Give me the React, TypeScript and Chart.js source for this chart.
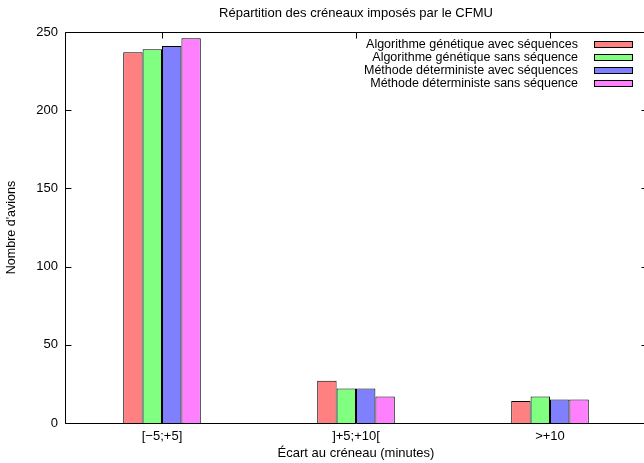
import React, { useEffect, useRef } from 'react';
import { Chart, registerables } from 'chart.js';

Chart.register(...registerables);

const FONT = '"Liberation Sans", Arial, Helvetica, sans-serif';

// Écart au créneau (categories on the x axis)
const categories = ['[−5;+5]', ']+5;+10[', '>+10'];

// Nombre d'avions per method
const genetiqueAvecSequences = [237, 27, 14];
const genetiqueSansSequence = [239, 22, 17];
const deterministeAvecSequences = [241, 22, 15];
const deterministeSansSequence = [246, 17, 15];

const seriesLabels = [
  'Algorithme génétique avec séquences',
  'Algorithme génétique sans séquence',
  'Méthode déterministe avec séquences',
  'Méthode déterministe sans séquence',
];
const seriesColors = ['#ff8080', '#80ff80', '#8080ff', '#ff80ff'];

const yMin = 0;
const yMax = 250;
const yStep = 50;

const chartTitle = 'Répartition des créneaux imposés par le CFMU';
const xTitle = 'Écart au créneau (minutes)';
const yTitle = "Nombre d'avions";

// gnuplot-like frame: border, inward tics on all sides, title and legend in the top right
const framePlugin = {
  id: 'gnuplotFrame',
  beforeDatasetsDraw(chart: any) {
    const { ctx, chartArea } = chart;
    const xs = chart.scales.x;
    ctx.save();
    ctx.strokeStyle = '#000';
    ctx.lineWidth = 1;
    ctx.beginPath();
    categories.forEach((_, i) => {
      const x = Math.round(xs.getPixelForValue(i)) + 0.5;
      ctx.moveTo(x, chartArea.bottom);
      ctx.lineTo(x, chartArea.bottom - 6);
    });
    ctx.stroke();
    ctx.restore();
  },
  afterDatasetsDraw(chart: any) {
    const { ctx, chartArea } = chart;
    const xs = chart.scales.x;
    const ys = chart.scales.y;
    const l = Math.round(chartArea.left) + 0.5;
    const r = Math.round(chartArea.right) + 0.5;
    const t = Math.round(chartArea.top) + 0.5;
    const b = Math.round(chartArea.bottom) + 0.5;
    ctx.save();
    ctx.strokeStyle = '#000';
    ctx.lineWidth = 1;
    ctx.beginPath();
    ctx.rect(l, t, r - l, b - t);
    ys.ticks.forEach((tk: any) => {
      const y = Math.round(ys.getPixelForValue(tk.value)) + 0.5;
      ctx.moveTo(l, y);
      ctx.lineTo(l + 6, y);
      ctx.moveTo(r, y);
      ctx.lineTo(r - 6, y);
    });
    categories.forEach((_, i) => {
      const x = Math.round(xs.getPixelForValue(i)) + 0.5;
      ctx.moveTo(x, t);
      ctx.lineTo(x, t + 6);
    });
    ctx.stroke();
    ctx.restore();
  },
  afterDraw(chart: any) {
    const { ctx, chartArea } = chart;
    ctx.save();
    ctx.fillStyle = '#000';
    // title
    ctx.font = `13px ${FONT}`;
    ctx.textAlign = 'center';
    ctx.textBaseline = 'alphabetic';
    ctx.fillText(chartTitle, (chartArea.left + chartArea.right) / 2, 17);
    // legend
    ctx.font = `12.5px ${FONT}`;
    ctx.textAlign = 'right';
    ctx.textBaseline = 'middle';
    const textRight = chartArea.right - 69;
    const boxLeft = chartArea.right - 53;
    const boxW = 38;
    const boxH = 6;
    chart.data.datasets.forEach((ds: any, i: number) => {
      const cy = chartArea.top + 12 + i * 13;
      ctx.fillStyle = '#000';
      ctx.fillText(ds.label, textRight, cy + 1);
      ctx.fillStyle = ds.backgroundColor;
      ctx.fillRect(Math.round(boxLeft) + 0.5, Math.round(cy - boxH / 2) + 0.5, boxW, boxH);
      ctx.strokeStyle = '#000';
      ctx.lineWidth = 1;
      ctx.strokeRect(Math.round(boxLeft) + 0.5, Math.round(cy - boxH / 2) + 0.5, boxW, boxH);
    });
    ctx.restore();
  },
};

export default function App() {
  const canvasRef = useRef<HTMLCanvasElement>(null);

  useEffect(() => {
    if (!canvasRef.current) return;
    const values = [
      genetiqueAvecSequences,
      genetiqueSansSequence,
      deterministeAvecSequences,
      deterministeSansSequence,
    ];
    const chart = new Chart(canvasRef.current, {
      type: 'bar',
      data: {
        labels: categories,
        datasets: values.map((data, i) => ({
          label: seriesLabels[i],
          data,
          backgroundColor: seriesColors[i],
          borderColor: '#000',
          borderWidth: 1,
          categoryPercentage: 0.4,
          barPercentage: 1,
        })),
      },
      options: {
        animation: false,
        responsive: false,
        events: [],
        layout: { padding: { top: 32, right: 13, left: 0, bottom: 0 } },
        plugins: {
          legend: { display: false },
          title: { display: false },
          tooltip: { enabled: false },
        },
        scales: {
          x: {
            type: 'category',
            offset: true,
            grid: { display: false, drawTicks: false },
            border: { display: false },
            ticks: {
              color: '#000',
              font: { family: FONT, size: 13 },
              padding: 6,
              maxRotation: 0,
              autoSkip: false,
            },
            title: {
              display: true,
              text: xTitle,
              color: '#000',
              font: { family: FONT, size: 13 },
              padding: { top: 0, bottom: 1.5 },
            },
            afterFit(scale: any) {
              scale.height = 40;
            },
          },
          y: {
            min: yMin,
            max: yMax,
            grid: { display: false, drawTicks: false },
            border: { display: false },
            ticks: {
              stepSize: yStep,
              color: '#000',
              font: { family: FONT, size: 13 },
              padding: 7,
            },
            title: {
              display: true,
              text: yTitle,
              color: '#000',
              font: { family: FONT, size: 12.5 },
              padding: { top: 4, bottom: 0 },
            },
            afterFit(scale: any) {
              scale.width = 65;
            },
          },
        },
      },
      plugins: [framePlugin],
    });
    return () => chart.destroy();
  }, []);

  return (
    <div
      style={{
        position: 'fixed',
        left: 0,
        top: 0,
        width: 644,
        height: 463,
        overflow: 'hidden',
        background: '#fff',
      }}
    >
      <canvas ref={canvasRef} width={660} height={463} />
    </div>
  );
}
